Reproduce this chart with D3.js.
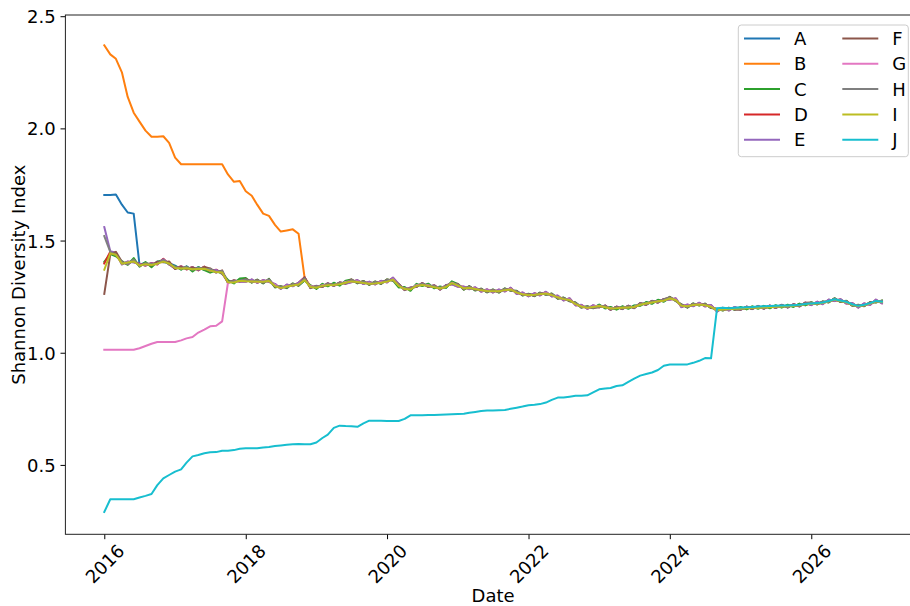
<!DOCTYPE html>
<html>
<head>
<meta charset="utf-8">
<script src="https://cdn.jsdelivr.net/npm/d3@7"></script>
<style>
  body { margin: 0; background: #fff; }
  svg text { font-family: "DejaVu Sans", sans-serif; fill: #000; }
</style>
</head>
<body>
<svg id="chart" width="910" height="606"></svg>
<script>
// Monthly Shannon diversity index per group, Jan 2016 .. Jan 2027 (133 points each)
const seriesNames = ["A", "B", "C", "D", "E", "F", "G", "H", "I", "J"];
const seriesColors = ["#1f77b4", "#ff7f0e", "#2ca02c", "#d62728", "#9467bd",
                      "#8c564b", "#e377c2", "#7f7f7f", "#bcbd22", "#17becf"];

const A = [
  1.703, 1.703, 1.705, 1.660, 1.625, 1.620, 1.392, 1.401, 1.386, 1.407, 1.404, 1.399,
  1.388, 1.372, 1.385, 1.368, 1.381, 1.370, 1.366, 1.368, 1.357, 1.320, 1.312, 1.327,
  1.325, 1.315, 1.323, 1.311, 1.326, 1.295, 1.293, 1.292, 1.305, 1.301, 1.324, 1.299,
  1.288, 1.304, 1.299, 1.309, 1.302, 1.319, 1.317, 1.320, 1.309, 1.314, 1.307, 1.318,
  1.317, 1.331, 1.296, 1.290, 1.280, 1.304, 1.300, 1.305, 1.290, 1.292, 1.291, 1.316,
  1.303, 1.284, 1.294, 1.280, 1.283, 1.272, 1.279, 1.271, 1.284, 1.279, 1.273, 1.258,
  1.261, 1.255, 1.266, 1.261, 1.262, 1.244, 1.244, 1.232, 1.222, 1.204, 1.205, 1.201,
  1.213, 1.200, 1.202, 1.195, 1.205, 1.199, 1.209, 1.212, 1.224, 1.221, 1.234, 1.230,
  1.240, 1.239, 1.207, 1.211, 1.211, 1.219, 1.210, 1.209, 1.187, 1.197, 1.192, 1.200,
  1.201, 1.196, 1.204, 1.199, 1.206, 1.201, 1.209, 1.204, 1.211, 1.207, 1.216, 1.214,
  1.222, 1.218, 1.226, 1.227, 1.240, 1.229, 1.229, 1.212, 1.211, 1.210, 1.223, 1.227, 1.230
];
const B = [
  2.370, 2.330, 2.310, 2.250, 2.140, 2.070, 2.030, 1.990, 1.963, 1.963, 1.965, 1.935,
  1.870, 1.840, 1.840, 1.840, 1.840, 1.840, 1.840, 1.840, 1.840, 1.795, 1.762, 1.765,
  1.720, 1.700, 1.660, 1.620, 1.610, 1.570, 1.540, 1.545, 1.550, 1.530, 1.335, 1.297,
  1.290, 1.302, 1.301, 1.306, 1.305, 1.316, 1.318, 1.319, 1.311, 1.312, 1.309, 1.316,
  1.318, 1.330, 1.298, 1.288, 1.282, 1.302, 1.302, 1.301, 1.292, 1.290, 1.293, 1.314,
  1.298, 1.290, 1.288, 1.287, 1.277, 1.278, 1.273, 1.277, 1.278, 1.285, 1.267, 1.264,
  1.255, 1.261, 1.260, 1.267, 1.256, 1.250, 1.238, 1.238, 1.216, 1.209, 1.199, 1.207,
  1.207, 1.206, 1.196, 1.201, 1.199, 1.205, 1.203, 1.217, 1.218, 1.227, 1.228, 1.235,
  1.245, 1.234, 1.212, 1.206, 1.216, 1.214, 1.215, 1.204, 1.192, 1.192, 1.197, 1.195,
  1.200, 1.197, 1.203, 1.200, 1.205, 1.202, 1.208, 1.205, 1.210, 1.208, 1.215, 1.215,
  1.217, 1.223, 1.221, 1.232, 1.235, 1.234, 1.224, 1.217, 1.206, 1.215, 1.218, 1.232, 1.225
];
const C = [
  1.405, 1.440, 1.430, 1.408, 1.392, 1.422, 1.384, 1.404, 1.381, 1.405, 1.414, 1.393,
  1.386, 1.370, 1.384, 1.362, 1.381, 1.368, 1.357, 1.366, 1.352, 1.324, 1.309, 1.331,
  1.333, 1.312, 1.326, 1.309, 1.330, 1.291, 1.297, 1.288, 1.309, 1.298, 1.322, 1.301,
  1.284, 1.307, 1.296, 1.312, 1.299, 1.321, 1.326, 1.309, 1.320, 1.302, 1.318, 1.306,
  1.327, 1.321, 1.291, 1.293, 1.276, 1.307, 1.297, 1.308, 1.287, 1.295, 1.289, 1.318,
  1.306, 1.281, 1.297, 1.277, 1.286, 1.269, 1.282, 1.268, 1.287, 1.276, 1.276, 1.255,
  1.263, 1.252, 1.268, 1.258, 1.264, 1.241, 1.246, 1.229, 1.224, 1.201, 1.207, 1.198,
  1.215, 1.197, 1.204, 1.192, 1.207, 1.196, 1.211, 1.209, 1.226, 1.218, 1.236, 1.227,
  1.249, 1.230, 1.216, 1.201, 1.220, 1.210, 1.219, 1.199, 1.196, 1.188, 1.201, 1.191,
  1.204, 1.193, 1.207, 1.196, 1.209, 1.198, 1.212, 1.201, 1.214, 1.204, 1.219, 1.211,
  1.225, 1.215, 1.229, 1.224, 1.243, 1.226, 1.232, 1.209, 1.214, 1.207, 1.226, 1.224, 1.233
];
const D = [
  1.398, 1.450, 1.444, 1.395, 1.406, 1.404, 1.397, 1.388, 1.400, 1.393, 1.419, 1.394,
  1.376, 1.386, 1.371, 1.382, 1.367, 1.384, 1.363, 1.370, 1.354, 1.314, 1.321, 1.317,
  1.317, 1.326, 1.312, 1.323, 1.316, 1.306, 1.285, 1.303, 1.297, 1.312, 1.337, 1.290,
  1.298, 1.294, 1.309, 1.298, 1.313, 1.308, 1.315, 1.323, 1.307, 1.316, 1.305, 1.320,
  1.314, 1.334, 1.306, 1.280, 1.290, 1.294, 1.310, 1.294, 1.300, 1.282, 1.301, 1.306,
  1.295, 1.294, 1.284, 1.291, 1.273, 1.282, 1.269, 1.281, 1.274, 1.289, 1.263, 1.268,
  1.252, 1.265, 1.256, 1.271, 1.252, 1.254, 1.234, 1.242, 1.212, 1.213, 1.196, 1.211,
  1.203, 1.210, 1.192, 1.205, 1.195, 1.209, 1.199, 1.221, 1.214, 1.231, 1.224, 1.239,
  1.237, 1.242, 1.204, 1.214, 1.208, 1.222, 1.207, 1.212, 1.184, 1.200, 1.189, 1.203,
  1.192, 1.205, 1.195, 1.208, 1.197, 1.210, 1.200, 1.213, 1.202, 1.216, 1.207, 1.223,
  1.213, 1.227, 1.217, 1.236, 1.231, 1.238, 1.220, 1.221, 1.202, 1.219, 1.214, 1.236, 1.221
];
const E = [
  1.560, 1.452, 1.446, 1.393, 1.407, 1.402, 1.396, 1.389, 1.399, 1.394, 1.417, 1.395,
  1.375, 1.385, 1.372, 1.381, 1.368, 1.383, 1.364, 1.369, 1.355, 1.313, 1.322, 1.316,
  1.316, 1.327, 1.311, 1.324, 1.315, 1.307, 1.284, 1.304, 1.296, 1.313, 1.334, 1.289,
  1.299, 1.293, 1.310, 1.297, 1.314, 1.307, 1.314, 1.324, 1.306, 1.317, 1.304, 1.321,
  1.313, 1.335, 1.307, 1.279, 1.291, 1.293, 1.311, 1.293, 1.301, 1.281, 1.302, 1.305,
  1.294, 1.295, 1.283, 1.292, 1.272, 1.283, 1.268, 1.282, 1.273, 1.290, 1.262, 1.269,
  1.251, 1.266, 1.255, 1.272, 1.251, 1.255, 1.233, 1.243, 1.211, 1.214, 1.195, 1.212,
  1.202, 1.211, 1.191, 1.206, 1.194, 1.210, 1.198, 1.222, 1.213, 1.232, 1.223, 1.240,
  1.236, 1.243, 1.203, 1.215, 1.207, 1.223, 1.206, 1.213, 1.183, 1.201, 1.188, 1.204,
  1.191, 1.206, 1.194, 1.209, 1.196, 1.211, 1.199, 1.214, 1.201, 1.217, 1.206, 1.224,
  1.212, 1.228, 1.216, 1.237, 1.230, 1.239, 1.219, 1.222, 1.201, 1.220, 1.213, 1.237, 1.220
];
const F = [
  1.262, 1.438, 1.450, 1.405, 1.394, 1.413, 1.387, 1.398, 1.389, 1.406, 1.403, 1.407,
  1.373, 1.383, 1.373, 1.380, 1.371, 1.382, 1.376, 1.357, 1.367, 1.311, 1.323, 1.318,
  1.329, 1.314, 1.325, 1.311, 1.327, 1.294, 1.295, 1.291, 1.308, 1.300, 1.336, 1.288,
  1.298, 1.294, 1.309, 1.299, 1.313, 1.309, 1.327, 1.311, 1.319, 1.304, 1.317, 1.308,
  1.326, 1.322, 1.306, 1.280, 1.290, 1.294, 1.310, 1.294, 1.300, 1.282, 1.301, 1.306,
  1.307, 1.282, 1.296, 1.279, 1.285, 1.270, 1.281, 1.269, 1.286, 1.277, 1.275, 1.256,
  1.262, 1.253, 1.267, 1.259, 1.263, 1.242, 1.245, 1.230, 1.223, 1.202, 1.206, 1.199,
  1.203, 1.210, 1.192, 1.205, 1.195, 1.209, 1.199, 1.221, 1.214, 1.231, 1.224, 1.239,
  1.248, 1.231, 1.215, 1.202, 1.219, 1.211, 1.218, 1.200, 1.195, 1.189, 1.200, 1.192,
  1.192, 1.205, 1.195, 1.208, 1.197, 1.210, 1.200, 1.213, 1.202, 1.216, 1.207, 1.223,
  1.224, 1.216, 1.228, 1.225, 1.242, 1.227, 1.231, 1.210, 1.213, 1.208, 1.225, 1.225, 1.232
];
const G = [
  1.013, 1.013, 1.013, 1.013, 1.013, 1.013, 1.020, 1.030, 1.040, 1.048, 1.048, 1.048,
  1.048, 1.055, 1.064, 1.070, 1.090, 1.103, 1.118, 1.120, 1.140, 1.312, 1.317, 1.320,
  1.322, 1.318, 1.317, 1.316, 1.324, 1.301, 1.290, 1.296, 1.302, 1.304, 1.326, 1.297,
  1.292, 1.301, 1.303, 1.303, 1.307, 1.315, 1.320, 1.317, 1.314, 1.310, 1.311, 1.314,
  1.318, 1.327, 1.300, 1.286, 1.285, 1.301, 1.304, 1.301, 1.294, 1.289, 1.296, 1.312,
  1.300, 1.288, 1.291, 1.285, 1.279, 1.276, 1.276, 1.275, 1.280, 1.283, 1.269, 1.262,
  1.257, 1.259, 1.262, 1.265, 1.258, 1.248, 1.240, 1.236, 1.218, 1.207, 1.201, 1.205,
  1.209, 1.204, 1.198, 1.199, 1.201, 1.203, 1.205, 1.215, 1.220, 1.225, 1.230, 1.233,
  1.243, 1.236, 1.210, 1.208, 1.214, 1.216, 1.213, 1.206, 1.190, 1.194, 1.195, 1.197,
  1.198, 1.199, 1.201, 1.202, 1.203, 1.204, 1.206, 1.207, 1.208, 1.210, 1.213, 1.217,
  1.219, 1.221, 1.223, 1.230, 1.237, 1.232, 1.226, 1.215, 1.208, 1.213, 1.220, 1.230, 1.227
];
const H = [
  1.520, 1.449, 1.436, 1.404, 1.395, 1.415, 1.386, 1.399, 1.396, 1.397, 1.413, 1.396,
  1.384, 1.374, 1.383, 1.370, 1.379, 1.372, 1.374, 1.359, 1.364, 1.315, 1.319, 1.320,
  1.326, 1.316, 1.322, 1.313, 1.326, 1.296, 1.294, 1.293, 1.306, 1.302, 1.331, 1.291,
  1.296, 1.296, 1.307, 1.300, 1.311, 1.310, 1.324, 1.313, 1.317, 1.306, 1.315, 1.310,
  1.324, 1.324, 1.304, 1.282, 1.288, 1.296, 1.308, 1.296, 1.298, 1.284, 1.299, 1.308,
  1.304, 1.284, 1.294, 1.281, 1.283, 1.272, 1.279, 1.271, 1.284, 1.279, 1.273, 1.258,
  1.260, 1.255, 1.265, 1.261, 1.261, 1.244, 1.243, 1.232, 1.221, 1.204, 1.204, 1.201,
  1.205, 1.208, 1.194, 1.203, 1.197, 1.207, 1.201, 1.219, 1.216, 1.229, 1.226, 1.237,
  1.246, 1.233, 1.213, 1.204, 1.217, 1.213, 1.216, 1.202, 1.193, 1.191, 1.198, 1.194,
  1.194, 1.203, 1.197, 1.206, 1.199, 1.208, 1.202, 1.211, 1.204, 1.214, 1.209, 1.221,
  1.222, 1.218, 1.226, 1.227, 1.240, 1.229, 1.229, 1.212, 1.211, 1.210, 1.223, 1.227, 1.230
];
const I = [
  1.370, 1.443, 1.437, 1.397, 1.402, 1.407, 1.389, 1.394, 1.391, 1.397, 1.406, 1.398,
  1.378, 1.376, 1.377, 1.372, 1.373, 1.374, 1.366, 1.360, 1.358, 1.314, 1.313, 1.321,
  1.319, 1.318, 1.316, 1.316, 1.320, 1.297, 1.288, 1.295, 1.300, 1.304, 1.324, 1.293,
  1.290, 1.298, 1.301, 1.302, 1.305, 1.312, 1.318, 1.315, 1.311, 1.308, 1.309, 1.312,
  1.317, 1.326, 1.298, 1.284, 1.282, 1.298, 1.302, 1.298, 1.292, 1.286, 1.293, 1.310,
  1.299, 1.287, 1.289, 1.284, 1.278, 1.275, 1.274, 1.274, 1.279, 1.282, 1.268, 1.261,
  1.256, 1.258, 1.261, 1.264, 1.257, 1.247, 1.239, 1.235, 1.217, 1.206, 1.200, 1.204,
  1.208, 1.203, 1.197, 1.198, 1.200, 1.202, 1.204, 1.214, 1.219, 1.224, 1.229, 1.232,
  1.242, 1.235, 1.209, 1.207, 1.213, 1.215, 1.212, 1.205, 1.189, 1.193, 1.194, 1.196,
  1.197, 1.198, 1.200, 1.201, 1.202, 1.203, 1.205, 1.206, 1.207, 1.209, 1.212, 1.216,
  1.218, 1.220, 1.222, 1.229, 1.236, 1.231, 1.225, 1.214, 1.207, 1.212, 1.219, 1.229, 1.226
];
const J = [
  0.290, 0.347, 0.347, 0.347, 0.347, 0.347, 0.355, 0.362, 0.370, 0.410, 0.440, 0.455,
  0.470, 0.480, 0.510, 0.538, 0.544, 0.552, 0.556, 0.557, 0.563, 0.563, 0.566, 0.572,
  0.574, 0.574, 0.574, 0.578, 0.580, 0.584, 0.587, 0.590, 0.592, 0.593, 0.592, 0.592,
  0.600, 0.620, 0.635, 0.665, 0.675, 0.673, 0.672, 0.670, 0.685, 0.697, 0.697, 0.697,
  0.696, 0.696, 0.696, 0.705, 0.721, 0.721, 0.721, 0.722, 0.723, 0.724, 0.725, 0.726,
  0.727, 0.728, 0.732, 0.736, 0.740, 0.742, 0.743, 0.744, 0.745, 0.750, 0.755, 0.760,
  0.766, 0.768, 0.771, 0.778, 0.790, 0.800, 0.800, 0.804, 0.808, 0.808, 0.810, 0.823,
  0.837, 0.841, 0.843, 0.852, 0.855, 0.870, 0.885, 0.898, 0.905, 0.912, 0.923, 0.942,
  0.948, 0.948, 0.948, 0.948, 0.955, 0.964, 0.976, 0.975, 1.198, 1.200, 1.198, 1.201,
  1.202, 1.203, 1.204, 1.206, 1.207, 1.208, 1.209, 1.210, 1.210, 1.212, 1.214, 1.217,
  1.220, 1.222, 1.224, 1.231, 1.238, 1.233, 1.227, 1.216, 1.209, 1.214, 1.221, 1.231, 1.228
];

const seriesValues = [A, B, C, D, E, F, G, H, I, J];
const xTickYears = [2016, 2018, 2020, 2022, 2024, 2026];
const yTickValues = [0.5, 1.0, 1.5, 2.0, 2.5];
const xLabel = "Date";
const yLabel = "Shannon Diversity Index";

// month starts, Jan 2016 through Jan 2027
const dates = d3.timeMonth.range(new Date(2016, 0, 1), new Date(2027, 0, 2));

// ---- layout ----
const plot = { left: 65.4, top: 15, right: 920.8, bottom: 534.3 };
const fontMain = 18;
const fontLegend = 18;
const svg = d3.select("#chart");
svg.append("rect").attr("width", 910).attr("height", 606).attr("fill", "#fff");

// x domain padded by 5% of the data span on each side
const t0 = dates[0], t1 = dates[dates.length - 1];
const pad = (t1 - t0) * 0.05;
const x = d3.scaleTime()
  .domain([new Date(+t0 - pad), new Date(+t1 + pad)])
  .range([plot.left, plot.right]);
const y = d3.scaleLinear()
  .domain([0.1907, 2.5054])
  .range([plot.bottom, plot.top]);

// ---- lines ----
const line = d3.line()
  .x((d, i) => x(dates[i]))
  .y(d => y(d));

const lines = svg.append("g");
seriesValues.forEach((vals, k) => {
  lines.append("path")
    .datum(vals)
    .attr("d", line)
    .attr("fill", "none")
    .attr("stroke", seriesColors[k])
    .attr("stroke-width", 2)
    .attr("stroke-linejoin", "round")
    .attr("stroke-linecap", "square");
});

// ---- axes ----
const tickLen = 4.9;
const xAxis = d3.axisBottom(x)
  .tickValues(xTickYears.map(yr => new Date(yr, 0, 1)))
  .tickFormat(d3.timeFormat("%Y"))
  .tickSize(tickLen)
  .tickPadding(0);
const gx = svg.append("g")
  .attr("transform", `translate(0,${plot.bottom})`)
  .call(xAxis);
gx.select(".domain").remove();
gx.selectAll(".tick line").attr("stroke", "#000").attr("stroke-width", 1);
gx.selectAll(".tick text")
  .attr("font-size", fontMain)
  .attr("fill", "#000")
  .attr("text-anchor", "middle")
  .attr("dominant-baseline", "central")
  .attr("y", 0)
  .attr("dy", 0)
  .attr("transform", "translate(0,29.5) rotate(-45)");

const yAxis = d3.axisLeft(y)
  .tickValues(yTickValues)
  .tickFormat(d3.format(".1f"))
  .tickSize(tickLen)
  .tickPadding(4.9);
const gy = svg.append("g")
  .attr("transform", `translate(${plot.left},0)`)
  .call(yAxis);
gy.select(".domain").remove();
gy.selectAll(".tick line").attr("stroke", "#000").attr("stroke-width", 1);
gy.selectAll(".tick text")
  .attr("font-size", fontMain)
  .attr("fill", "#000")
  .attr("dy", "0.36em");

svg.selectAll(".tick text").style("font-family", "'DejaVu Sans', sans-serif");

// frame
svg.append("rect")
  .attr("x", plot.left).attr("y", plot.top)
  .attr("width", plot.right - plot.left)
  .attr("height", plot.bottom - plot.top)
  .attr("fill", "none")
  .attr("stroke", "#222")
  .attr("stroke-width", 1);

// axis titles
svg.append("text")
  .attr("x", (plot.left + plot.right) / 2)
  .attr("y", 602)
  .attr("text-anchor", "middle")
  .attr("font-size", fontMain)
  .text(xLabel);
svg.append("text")
  .attr("transform", `translate(25,${(plot.top + plot.bottom) / 2}) rotate(-90)`)
  .attr("text-anchor", "middle")
  .attr("font-size", fontMain)
  .text(yLabel);

// ---- legend (two columns, five rows) ----
const legend = svg.append("g");
legend.append("rect")
  .attr("x", 738.3).attr("y", 25)
  .attr("width", 170).attr("height", 131.7)
  .attr("rx", 3)
  .attr("fill", "#fff").attr("fill-opacity", 0.8)
  .attr("stroke", "#cccccc").attr("stroke-width", 1);
seriesNames.forEach((name, k) => {
  const col = Math.floor(k / 5), row = k % 5;
  const lx = 744 + col * 98.3;
  const ly = 38.5 + row * 25.3;
  legend.append("line")
    .attr("x1", lx).attr("x2", lx + 36)
    .attr("y1", ly).attr("y2", ly)
    .attr("stroke", seriesColors[k]).attr("stroke-width", 2);
  legend.append("text")
    .attr("x", lx + 50).attr("y", ly)
    .attr("dy", "0.36em")
    .attr("font-size", fontLegend)
    .text(name);
});
</script>
</body>
</html>
